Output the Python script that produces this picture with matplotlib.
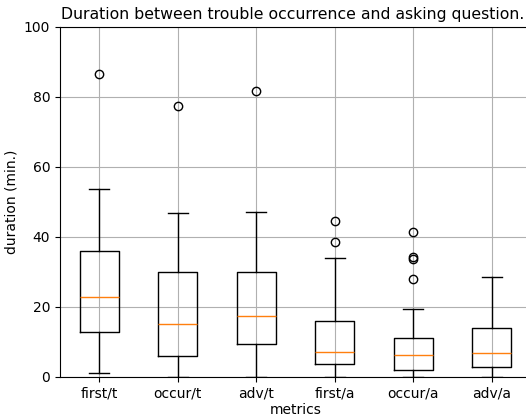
import matplotlib
matplotlib.use("Agg")
import matplotlib.pyplot as plt

labels = ["first/t", "occur/t", "adv/t", "first/a", "occur/a", "adv/a"]
whislo = [1.1, 0.0, 0.0, 0.0, 0.0, 0.0]
q1 = [12.9, 5.9, 9.3, 3.7, 2.0, 2.7]
med = [22.7, 15.2, 17.3, 7.1, 6.1, 6.7]
q3 = [36.0, 29.9, 30.0, 15.8, 11.1, 13.8]
whishi = [53.8, 46.8, 47.1, 33.9, 19.4, 28.6]
fliers = [[86.7], [77.4], [81.6], [38.6, 44.6], [28.0, 33.7, 34.2, 41.4], []]

stats = []
for i in range(len(labels)):
    stats.append(dict(label=labels[i], whislo=whislo[i], q1=q1[i], med=med[i],
                      q3=q3[i], whishi=whishi[i], fliers=fliers[i]))

fig = plt.figure(figsize=(5.26, 4.16), dpi=100)
ax = fig.add_axes([60/526, (416-376.7)/416, 471/526, (376.7-27)/416])
ax.bxp(stats)
ax.set_ylim(0, 100)
ax.grid(True)
ax.set_title("Duration between trouble occurrence and asking question.", fontsize=11.3, x=0.495)
ax.set_xlabel("metrics", labelpad=2)
ax.set_ylabel("duration (min.)")
fig.savefig("out.png", dpi=100)
